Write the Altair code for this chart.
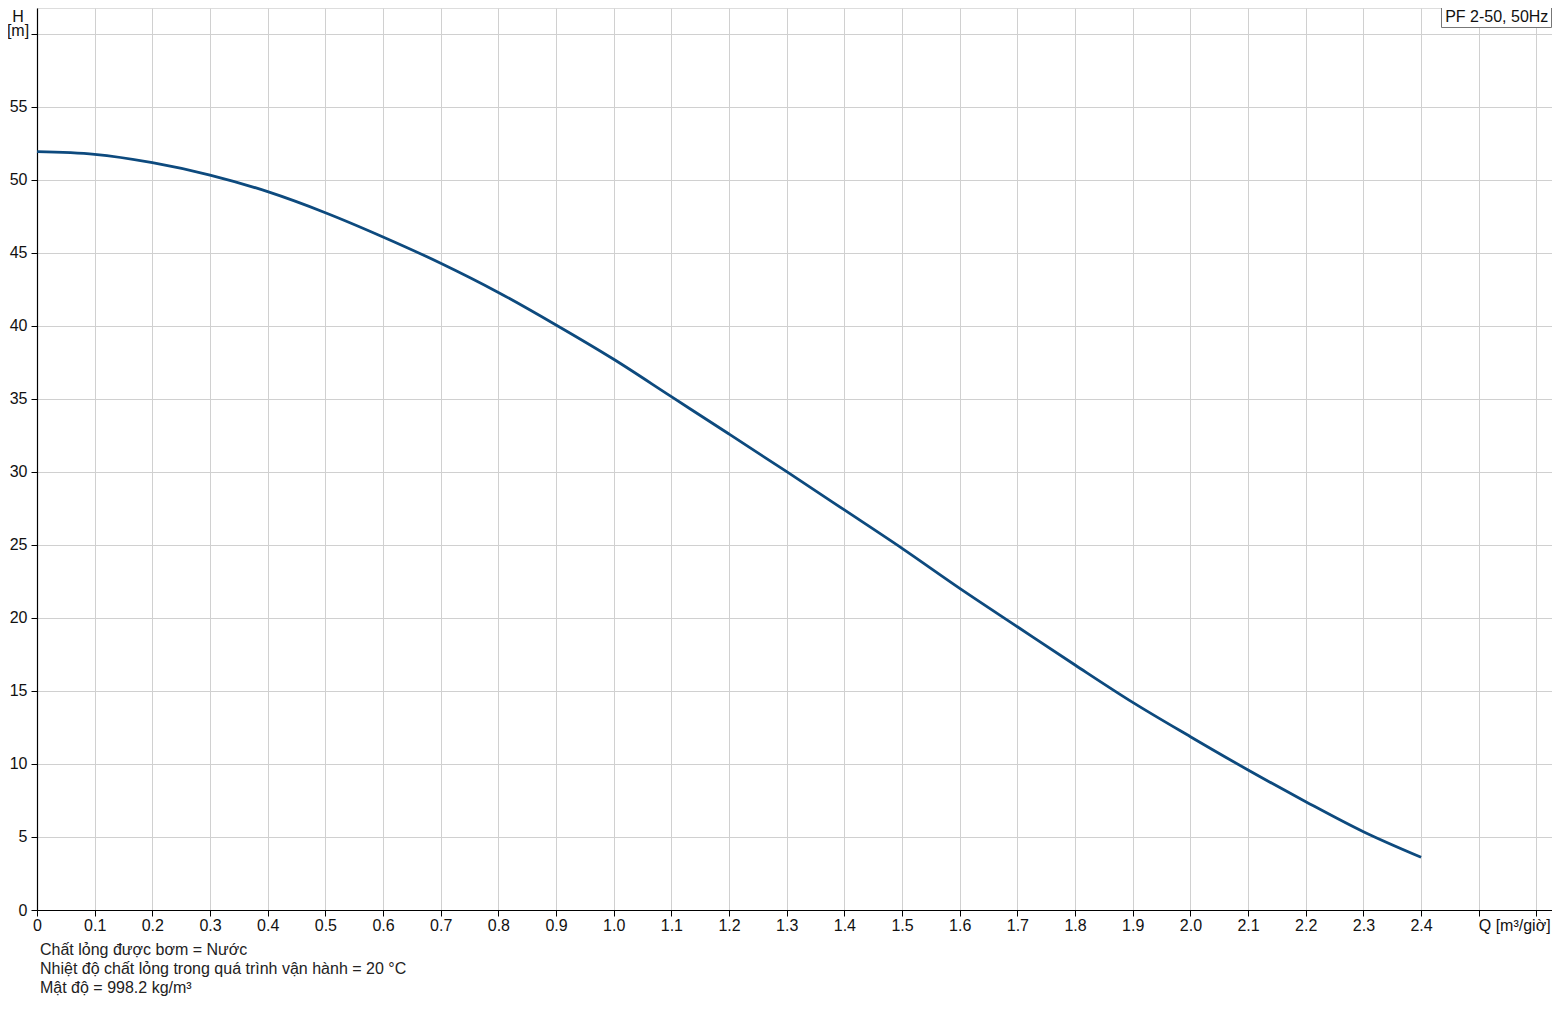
import altair as alt
import pandas as pd

# Pump curve PF 2-50, 50Hz : flow Q [m3/h] vs head H [m]
flow_q = [0.0, 0.1, 0.2, 0.3, 0.4, 0.5, 0.6, 0.7, 0.8, 0.9, 1.0, 1.1, 1.2,
          1.3, 1.4, 1.5, 1.6, 1.7, 1.8, 1.9, 2.0, 2.1, 2.2, 2.3, 2.4]
head_h = [51.94, 51.76, 51.19, 50.34, 49.20, 47.76, 46.10, 44.30, 42.30,
          40.07, 37.72, 35.16, 32.60, 30.02, 27.40, 24.77, 22.03, 19.40,
          16.78, 14.22, 11.87, 9.59, 7.42, 5.36, 3.61]

x_ticks = [0.0, 0.1, 0.2, 0.3, 0.4, 0.5, 0.6, 0.7, 0.8, 0.9, 1.0, 1.1, 1.2,
           1.3, 1.4, 1.5, 1.6, 1.7, 1.8, 1.9, 2.0, 2.1, 2.2, 2.3, 2.4, 2.5, 2.6]
y_ticks = [0, 5, 10, 15, 20, 25, 30, 35, 40, 45, 50, 55, 60]

legend_label = "PF 2-50, 50Hz"
x_unit_label = "Q [m³/giờ]"
y_unit_top = "H"
y_unit_bottom = "[m]"
notes = [
    "Chất lỏng được bơm = Nước",
    "Nhiệt độ chất lỏng trong quá trình vận hành = 20 °C",
    "Mật độ = 998.2 kg/m³",
]

FONT = "Liberation Sans"
FS = 16
W, H = 1515, 902
TXT = "#111111"

df = pd.DataFrame({"Q": flow_q, "H": head_h})

x_scale = alt.Scale(domain=[0, 2.627], nice=False, zero=False)
y_scale = alt.Scale(domain=[0, 61.78], nice=False)

axis_common = dict(
    title=None, grid=True, gridColor="#d0d0d0", gridWidth=1,
    domainColor="#000000", domainWidth=1.2,
    tickColor="#000000", tickSize=6, tickWidth=1,
    labelFont=FONT, labelFontSize=FS, labelColor=TXT,
    labelOverlap=False, labelFlush=False,
)

x_axis = alt.Axis(
    values=x_ticks, labelPadding=1,
    labelExpr="datum.value >= 2.45 ? '' : (datum.value == 0 ? '0' : format(datum.value, '.1f'))",
    **axis_common,
)
y_axis = alt.Axis(
    values=y_ticks, labelPadding=4,
    labelExpr="datum.value >= 60 ? '' : datum.label",
    **axis_common,
)

line = alt.Chart(df).mark_line(
    color="#0d4a7e", strokeWidth=2.8, interpolate="monotone"
).encode(
    x=alt.X("Q:Q", scale=x_scale, axis=x_axis),
    y=alt.Y("H:Q", scale=y_scale, axis=y_axis),
)


def text_layer(txt, x, y, align="left", baseline="middle", color=TXT):
    return alt.Chart(pd.DataFrame({"t": [txt]})).mark_text(
        align=align, baseline=baseline, font=FONT, fontSize=FS, color=color
    ).encode(x=x, y=alt.value(y), text="t:N")


q_label = text_layer(x_unit_label, alt.datum(2.5, type="quantitative"), H + 16)
h_top = text_layer(y_unit_top, alt.value(-19), 1, align="center", baseline="top")
h_bot = text_layer(y_unit_bottom, alt.value(-19), 23, align="center")

note_layers = [
    text_layer(notes[0], alt.value(3), H + 40, color="#222222"),
    text_layer(notes[1], alt.value(3), H + 59, color="#222222"),
    text_layer(notes[2], alt.value(3), H + 78, color="#222222"),
]

legend_box = alt.Chart(pd.DataFrame({"a": [1]})).mark_rect(
    fill="white", stroke="#777777", strokeWidth=1
).encode(x=alt.value(1404.5), x2=alt.value(W - 0.5), y=alt.value(-2), y2=alt.value(19.5))

legend_text = text_layer(legend_label, alt.value((1404.5 + W) / 2), 9, align="center")

chart = alt.layer(
    line, q_label, h_top, h_bot, *note_layers, legend_box, legend_text
).properties(
    width=W, height=H,
    autosize=alt.AutoSizeParams(type="none"),
    padding={"left": 29, "top": 0, "right": 0, "bottom": 86},
).configure_view(
    stroke="#c8c8c8", strokeWidth=1
).configure(background="white")

chart.save("out.html", embed_options={"renderer": "svg", "actions": False})
